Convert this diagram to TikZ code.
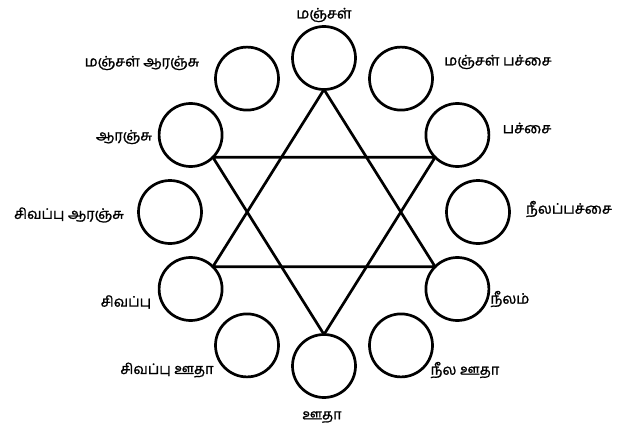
\documentclass[tikz,border=0pt]{standalone}
\usepackage{fontspec}
\newfontfamily\tamilfont[Script=Tamil, FakeBold=1.2]{Hind Madurai}
\usetikzlibrary{positioning}

\tikzset{
  colourring/.style={draw, circle, line width=2.7pt, minimum size=63pt, inner sep=0pt, outer sep=0pt},
  colourname/.style={font=\tamilfont\fontsize{14.5}{16}\selectfont, inner sep=0pt},
  starline/.style={line width=2.7pt, line cap=round, line join=round}
}

\begin{document}
\begin{tikzpicture}[x=1pt, y=-1pt]
  \useasboundingbox (0,0) rectangle (629,428);

  % Ring of twelve colours
  \node[colourring] (yellow) at (324,58) {};
  \node[colourring] (yelloworange) at (247,78.6) {};
  \node[colourring] (yellowgreen) at (401,78.6) {};
  \node[colourring] (orange) at (190.6,135) {};
  \node[colourring] (green) at (457.4,135) {};
  \node[colourring] (redorange) at (170,212) {};
  \node[colourring] (bluegreen) at (478,212) {};
  \node[colourring] (red) at (190.6,289) {};
  \node[colourring] (blue) at (457.4,289) {};
  \node[colourring] (redviolet) at (247,345.4) {};
  \node[colourring] (blueviolet) at (401,345.4) {};
  \node[colourring] (violet) at (324,366) {};

  % Names
  \node[colourname] (yellowlabel) at (324,15) {மஞ்சள்};
  \node[colourname] (yelloworangelabel) at (142,63) {மஞ்சள் ஆரஞ்சு};
  \node[colourname] (yellowgreenlabel) at (498,62) {மஞ்சள் பச்சை};
  \node[colourname] (orangelabel) at (124,137) {ஆரஞ்சு};
  \node[colourname] (greenlabel) at (527,128) {பச்சை};
  \node[colourname] (redorangelabel) at (69,215) {சிவப்பு ஆரஞ்சு};
  \node[colourname] (bluegreenlabel) at (569,209) {நீலப்பச்சை};
  \node[colourname] (redlabel) at (126,302) {சிவப்பு};
  \node[colourname] (bluelabel) at (510,299) {நீலம்};
  \node[colourname] (redvioletlabel) at (167,370) {சிவப்பு ஊதா};
  \node[colourname] (bluevioletlabel) at (465,370) {நீல ஊதா};
  \node[colourname] (violetlabel) at (322,417) {ஊதா};

  % Primary triangle
  \draw[starline] (yellow.south) -- (blue.north west) -- (red.north east) -- cycle;
  % Secondary triangle
  \draw[starline] (violet.north) -- (orange.south east) -- (green.south west) -- cycle;
\end{tikzpicture}
\end{document}
